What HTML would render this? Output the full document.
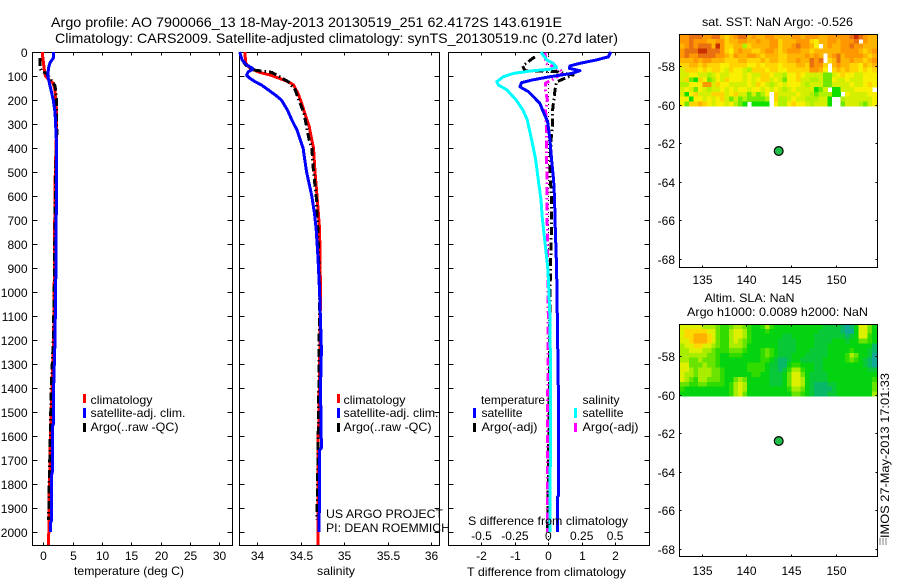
<!DOCTYPE html>
<html lang="en">
<head>
<meta charset="utf-8">
<title>Argo profile 7900066_13</title>
<style>
html,body{margin:0;padding:0;background:#fff;}
svg{display:block;font-family:"Liberation Sans",Arial,sans-serif;font-size:12px;fill:#000;}
.title{font-size:14px;}
</style>
</head>
<body>
<svg id="chart" xmlns="http://www.w3.org/2000/svg" width="900" height="580" viewBox="0 0 900 580">
  <rect x="0" y="0" width="900" height="580" fill="#fff"/>

  <text class="title" x="51" y="27" textLength="511" lengthAdjust="spacingAndGlyphs">Argo profile: AO 7900066_13 18-May-2013 20130519_251 62.4172S 143.6191E</text>
  <text class="title" x="55" y="43" textLength="563" lengthAdjust="spacingAndGlyphs">Climatology: CARS2009. Satellite-adjusted climatology: synTS_20130519.nc (0.27d later)</text>

  <g id="panel-temp"></g>
  <g id="panel-sal"></g>
  <g id="panel-diff"></g>
  <g id="map-sst"></g>
  <g id="map-sla"></g>

  <text x="74" y="575" textLength="110" lengthAdjust="spacingAndGlyphs">temperature (deg C)</text>
  <text x="317" y="575" textLength="38" lengthAdjust="spacingAndGlyphs">salinity</text>
  <text x="467" y="576" textLength="159" lengthAdjust="spacingAndGlyphs">T difference from climatology</text>
  <text x="468" y="525" textLength="160" lengthAdjust="spacingAndGlyphs">S difference from climatology</text>

  <g>
    <rect x="83" y="394" width="3" height="9" fill="#f00"/>
    <text x="90.5" y="404" textLength="62" lengthAdjust="spacingAndGlyphs">climatology</text>
    <rect x="83" y="408" width="3" height="10" fill="#00f"/>
    <text x="90.5" y="417" textLength="95" lengthAdjust="spacingAndGlyphs">satellite-adj. clim.</text>
    <rect x="83" y="423" width="3" height="9" fill="#000"/>
    <text x="90.5" y="431" textLength="88" lengthAdjust="spacingAndGlyphs">Argo(..raw -QC)</text>
  </g>
  <g>
    <rect x="337" y="394" width="3" height="9" fill="#f00"/>
    <text x="343.5" y="404" textLength="62" lengthAdjust="spacingAndGlyphs">climatology</text>
    <rect x="337" y="408" width="3" height="10" fill="#00f"/>
    <text x="343.5" y="417" textLength="95" lengthAdjust="spacingAndGlyphs">satellite-adj. clim.</text>
    <rect x="337" y="423" width="3" height="9" fill="#000"/>
    <text x="343.5" y="431" textLength="88" lengthAdjust="spacingAndGlyphs">Argo(..raw -QC)</text>
  </g>
  <g>
    <text x="326" y="518" textLength="117" lengthAdjust="spacingAndGlyphs">US ARGO PROJECT</text>
    <text x="326" y="532" textLength="124" lengthAdjust="spacingAndGlyphs">PI: DEAN ROEMMICH</text>
  </g>
  <g>
    <text x="481" y="404" textLength="64" lengthAdjust="spacingAndGlyphs">temperature</text>
    <rect x="473" y="408" width="3" height="10" fill="#00f"/>
    <text x="481.5" y="417" textLength="41" lengthAdjust="spacingAndGlyphs">satellite</text>
    <rect x="473" y="423" width="3" height="9" fill="#000"/>
    <text x="481.5" y="431" textLength="56" lengthAdjust="spacingAndGlyphs">Argo(-adj)</text>
    <text x="582.5" y="404" textLength="37" lengthAdjust="spacingAndGlyphs">salinity</text>
    <rect x="574" y="408" width="3" height="10" fill="#0ff"/>
    <text x="582.5" y="417" textLength="41" lengthAdjust="spacingAndGlyphs">satellite</text>
    <rect x="574" y="423" width="3" height="9" fill="#f0f"/>
    <text x="582.5" y="431" textLength="56" lengthAdjust="spacingAndGlyphs">Argo(-adj)</text>
  </g>

  <text x="702" y="26" textLength="151" lengthAdjust="spacingAndGlyphs">sat. SST: NaN Argo: -0.526</text>
  <text x="704.5" y="302" textLength="90" lengthAdjust="spacingAndGlyphs">Altim. SLA: NaN</text>
  <text x="687" y="316" textLength="181" lengthAdjust="spacingAndGlyphs">Argo h1000: 0.0089 h2000: NaN</text>

  <g>
    <text transform="translate(889,538) rotate(-90)" textLength="165" lengthAdjust="spacingAndGlyphs">IMOS 27-May-2013 17:01:33</text>
    <path d="M880 538.5V545M883 538.5V545M886 538.5V545" stroke="#000" stroke-width="1" stroke-dasharray="1 1" fill="none"/>
  </g>
</svg>

<script>
// ---------- tick labels ----------
const depthTicks = [0,100,200,300,400,500,600,700,800,900,1000,1100,1200,1300,1400,1500,1600,1700,1800,1900,2000];
const tempTicks = [0,5,10,15,20,25,30];
const salTicks = [34,34.5,35,35.5,36];
const salTickLabels = ["34","34.5","35","35.5","36"];
const tDiffTicks = [-2,-1,0,1,2];
const sDiffTicks = [-0.5,-0.25,0,0.25,0.5];
const sDiffTickLabels = ["-0.5","-0.25","0","0.25","0.5"];
const lonTicks = [135,140,145,150];
const latTicks = [-58,-60,-62,-64,-66,-68];

// ---------- temperature profiles ----------
const climTempDepth = [0,20,50,80,100,115,130,160,200,250,300,400,500,600,800,1000,1200,1400,1450,1500,1600,1650,1700,1800,1850,1900,2000,2025,2054];
const climTempValue = [-0.15,-0.1,0.05,0.2,0.35,0.9,1.7,2.0,2.15,2.25,2.28,2.17,2.05,2.0,1.9,1.85,1.75,1.45,1.43,1.3,1.25,1.15,1.15,1.03,0.97,0.97,0.95,0.85,0.85];
const satTempDepth = [0,25,45,65,100,140,200,250,300,400,600,800,1000,1200,1400,1550,1560,1750,1760,1950,1960,2000];
const satTempValue = [1.7,1.7,1.14,0.9,0.75,1.14,1.7,2.0,2.1,2.28,2.22,2.2,2.1,2.0,1.75,1.72,1.55,1.55,1.43,1.43,1.26,1.26];
const argoTempDepth = [25,65,80,90,120,140,200,300,340,500,700,1000,1200,1400,1600,1800,1950];
const argoTempValue = [-0.56,-0.56,-0.3,0.58,1.4,2.0,2.28,2.28,2.3,2.1,2.0,1.85,1.7,1.35,1.2,1.0,0.9];

// ---------- salinity profiles ----------
const climSalDepth = [0,46,68,85,96,110,124,137,172,200,255,311,367,400,500,600,740,1000,1400,1500,1550,1600,1850,2054];
const climSalValue = [33.86,33.87,33.92,34.03,34.15,34.26,34.36,34.42,34.47,34.5,34.55,34.6,34.63,34.65,34.667,34.69,34.72,34.73,34.716,34.71,34.71,34.7,34.7,34.7];
const satSalDepth = [0,33,54,68,75,82,96,110,124,137,158,179,200,242,283,325,400,450,500,550,600,670,740,850,1000,1240,1400,1650,1660,1900,1950,2000];
const satSalValue = [33.8,33.83,33.88,33.95,33.94,33.9,33.88,33.92,33.98,34.05,34.13,34.21,34.28,34.35,34.4,34.46,34.53,34.55,34.57,34.6,34.63,34.66,34.68,34.7,34.72,34.74,34.73,34.74,34.72,34.72,34.71,34.71];
const argoSalDepth = [33,54,75,85,103,124,158,200,255,311,367,400,500,600,740,1000,1400,1700,1950];
const argoSalValue = [33.83,33.87,33.96,34.17,34.26,34.36,34.44,34.48,34.54,34.57,34.6,34.63,34.65,34.68,34.7,34.72,34.71,34.7,34.69];

// ---------- difference profiles ----------
const satDTDepth = [0,20,33,47,58,68,78,89,103,117,128,145,165,186,214,249,290,367,450,533,617,700,900,1100,1400,1850,1855,2000];
const satDTValue = [1.87,1.8,1.45,0.95,0.65,0.63,0.95,0.7,0.05,-0.5,-0.8,-0.85,-0.6,-0.45,-0.25,-0.15,-0.02,0.05,0.1,0.16,0.19,0.2,0.25,0.27,0.3,0.3,0.27,0.27];
const satDSDepth = [0,33,47,64,72,79,89,103,124,137,158,200,242,283,367,450,533,617,692,908,1100,1400,2000];
const satDSValue = [-0.055,-0.012,0.037,0.063,0.01,-0.137,-0.26,-0.337,-0.386,-0.374,-0.31,-0.24,-0.19,-0.157,-0.124,-0.094,-0.075,-0.055,-0.045,-0.002,0.012,0.018,0.012];
const argoDTDepth = [20,40,58,78,82,96,124,158,242,311,367,505,617,700,1000,1400,1800,2000];
const argoDTValue = [-0.4,-0.6,-0.77,-0.7,0.25,0.74,0.25,0.2,0.13,0.12,0.08,0.05,0.1,0.1,0.05,0.03,0,-0.02];
const argoDSDepth = [3,47,75,89,103,117,130,158,200,242,325,450,700,1100,1500,2000];
const argoDSValue = [-0.025,-0.018,0.088,0.11,0.063,0.025,-0.022,-0.022,-0.007,-0.02,-0.012,-0.012,-0.008,0,-0.005,-0.005];

// ---------- map data: satellite SST colour classes (-1 = no data), 44 columns x 15 rows ----------
const sstGrid = [
[7,7,8,8,8,7,7,8,8,6,5,6,7,8,8,6,7,6,6,7,7,6,6,6,6,7,7,6,7,7,7,6,6,7,7,7,7,7,8,9,8,7,6,6],
[7,7,8,7,7,7,6,6,7,7,5,6,6,7,7,6,6,7,6,6,7,7,5,6,6,6,7,7,7,5,4,6,6,7,7,6,7,7,7,8,-1,7,6,6],
[6,7,8,7,8,8,8,6,9,7,5,5,6,6,2,5,6,6,6,6,7,7,5,6,6,7,8,7,7,6,4,-1,6,7,6,6,7,7,8,7,7,6,6,6],
[7,8,8,8,9,9,8,8,8,7,5,4,6,7,6,6,5,5,6,7,7,6,5,6,7,7,7,6,6,5,6,6,6,6,6,6,7,7,7,7,6,5,6,7],
[7,8,7,7,8,8,8,8,7,7,6,5,7,6,6,7,7,6,5,6,6,6,5,5,6,6,6,6,7,6,7,6,-1,6,7,8,6,7,7,7,7,6,5,6],
[6,6,6,7,6,7,7,6,6,6,5,5,5,6,6,5,5,5,6,5,6,6,5,5,6,6,7,6,6,8,7,8,-1,5,6,8,6,6,7,6,6,5,6,7],
[5,5,6,6,5,6,5,5,5,4,4,5,5,5,5,4,4,5,4,5,5,5,4,5,5,5,6,6,5,8,7,7,5,-1,6,7,6,6,5,5,4,6,5,6],
[3,5,5,5,4,5,4,5,5,4,3,5,4,4,3,2,5,5,5,4,5,5,4,4,5,5,5,5,5,7,7,6,4,-1,5,6,5,6,5,5,4,5,4,5],
[3,3,4,4,3,3,2,3,4,3,3,4,4,4,3,4,3,3,5,5,4,3,3,2,4,4,5,4,3,3,3,3,1,1,3,4,5,4,4,3,3,4,4,4],
[3,5,1,0,5,4,1,2,4,3,5,4,4,4,3,4,3,4,5,5,3,4,3,1,4,4,5,3,3,2,2,3,1,1,4,3,3,4,3,3,3,4,4,4],
[2,2,4,4,4,7,7,3,5,4,4,3,3,3,3,4,3,5,4,3,2,3,4,3,4,4,4,3,2,3,3,3,1,1,3,3,3,3,4,3,3,4,5,4],
[3,4,3,1,4,3,2,3,3,4,3,4,3,4,4,3,4,4,3,4,3,4,3,2,3,4,3,3,3,3,0,1,3,-1,0,0,3,3,3,4,4,4,4,-1],
[3,0,4,5,3,3,3,5,5,5,3,4,5,3,3,1,3,1,2,4,-1,5,3,3,3,3,4,3,3,2,1,2,2,2,0,0,-1,4,3,3,3,3,4,4],
[4,4,0,4,4,3,4,3,4,5,3,1,3,1,2,1,1,1,1,2,-1,5,2,2,3,4,3,3,2,2,2,3,3,0,-1,-1,2,3,3,3,3,3,3,4],
[4,1,5,5,6,5,4,3,4,4,3,4,2,1,0,-1,0,0,0,0,-1,4,2,2,4,5,4,4,3,2,3,3,3,0,-1,-1,1,3,3,3,2,1,3,4]
];
// ---------- map data: altimetric SLA colour classes, 44 columns x 15 rows ----------
const slaGrid = [
[7,7,7,7,7,6,6,6,5,4,4,5,6,6,5,4,3,3,4,6,4,3,3,3,3,3,3,3,3,3,3,3,2,2,2,2,1,0,1,3,7,7,5,3],
[7,8,8,8,8,8,7,7,5,4,4,6,7,7,6,4,3,3,3,4,3,3,3,3,3,3,3,3,3,3,3,2,2,2,2,2,1,0,0,3,7,7,5,3],
[7,8,8,9,9,9,8,7,5,4,4,6,7,7,6,4,3,3,3,3,3,3,3,2,2,3,3,3,3,3,2,2,2,2,2,2,2,1,2,3,7,7,4,3],
[7,7,8,9,9,9,8,7,5,4,4,6,7,6,5,4,3,3,3,3,3,3,2,2,2,2,3,3,3,3,2,2,2,2,3,3,3,2,3,3,5,5,4,3],
[6,7,7,8,8,7,7,6,5,4,4,6,6,6,5,3,3,3,3,3,3,3,2,2,2,2,3,3,3,3,2,2,2,3,3,3,3,3,3,3,3,3,3,1],
[6,6,7,7,7,6,6,5,4,4,4,5,5,5,4,3,3,3,4,5,4,3,2,2,2,2,3,3,3,2,2,2,2,3,3,3,3,3,4,3,3,3,2,1],
[6,6,6,6,6,6,5,5,4,3,3,4,4,4,3,3,3,3,4,5,4,3,2,2,2,3,3,3,2,2,2,2,2,3,3,3,3,4,6,5,3,3,2,0],
[6,6,5,5,6,5,5,5,4,3,3,3,3,3,3,3,3,3,4,4,3,2,1,1,2,3,3,2,2,2,2,2,3,3,3,3,3,4,5,4,3,2,1,0],
[7,7,5,5,5,6,5,5,4,3,3,3,3,3,3,4,4,4,4,3,2,2,1,1,3,4,4,3,3,3,2,2,3,3,3,3,3,3,3,3,3,2,1,0],
[7,7,6,5,6,6,6,5,5,4,3,3,3,3,3,4,4,4,4,3,2,2,1,2,4,6,6,4,3,3,2,2,3,3,3,3,3,3,3,3,3,3,2,2],
[7,6,6,5,6,6,6,5,5,4,3,3,3,3,3,3,4,4,3,3,2,2,2,3,5,7,7,5,3,2,2,2,2,3,3,3,3,3,3,3,3,3,3,3],
[7,6,5,4,6,6,5,5,5,4,3,3,5,6,5,3,3,3,3,3,2,2,2,3,5,7,7,6,3,2,2,2,2,3,3,3,3,3,3,3,3,3,3,4],
[5,5,4,4,5,5,4,4,4,4,3,4,6,7,6,3,3,3,3,3,2,2,2,3,5,7,7,6,3,2,1,1,1,2,2,3,3,3,3,3,3,3,3,5],
[4,3,3,3,3,3,3,3,3,3,3,4,6,7,6,3,3,3,3,3,3,3,3,3,4,6,6,5,3,2,1,1,1,1,2,3,3,3,3,3,3,3,3,5],
[3,3,3,3,3,3,3,3,3,3,3,4,6,7,5,3,3,3,3,3,3,3,3,3,3,5,5,4,3,2,1,1,1,2,2,3,3,3,3,3,3,3,3,6]
];
const profileLon = 143.6191;
const profileLat = -62.4172;
const gridLonStart = 132.57;
const gridLatStart = -56.34;
const gridLonStep = 0.5;
const gridLatStep = 0.25;

// ---------- colour scales (presentation, indexed by class) ----------
const sstPalette = ["#10e000","#70e800","#b0f000","#d4f000","#f8f000","#ffd400","#ffb400","#ff9800","#e87010","#c83000","#b00000"];
const slaPalette = ["#10a898","#08b868","#08c838","#04d410","#30dc00","#68e400","#a8ec00","#dcf000","#ffd800","#ffb000"];

// ---------- axis functions ----------
const yDepth = d => 52 + 0.24 * d;
const xTemp = v => 43.3 + 5.87 * v;
const xSal = v => 257 + 87 * (v - 34);
const xDT = v => 548.3 + 33.4 * v;
const xDS = v => 548.3 + 133.6 * v;
const xLon = v => 701.7 + (v - 135) * 8.93;
const ySst = v => 66 + (-58 - v) * 19.25;
const ySla = v => 356 + (-58 - v) * 19.25;

const NS = "http://www.w3.org/2000/svg";
function make(parent, tag) {
  const el = document.createElementNS(NS, tag);
  parent.appendChild(el);
  return el;
}
function tickLine(parent, x1, y1, x2, y2) {
  const el = make(parent, "line");
  el.setAttribute("x1", x1);
  el.setAttribute("y1", y1);
  el.setAttribute("x2", x2);
  el.setAttribute("y2", y2);
  el.setAttribute("stroke", "#000");
  el.setAttribute("stroke-width", "1");
  el.setAttribute("shape-rendering", "crispEdges");
  
  
}
function tickText(parent, x, y, label, anchor) {
  const el = make(parent, "text");
  el.setAttribute("x", x);
  el.setAttribute("y", y);
  el.setAttribute("text-anchor", anchor);
  el.textContent = label;
  
  
}
function frame(parent, x0, y0, x1, y1) {
  const el = make(parent, "rect");
  el.setAttribute("x", x0);
  el.setAttribute("y", y0);
  el.setAttribute("width", x1 - x0);
  el.setAttribute("height", y1 - y0);
  el.setAttribute("fill", "none");
  el.setAttribute("stroke", "#000");
  el.setAttribute("stroke-width", "1");
  el.setAttribute("shape-rendering", "crispEdges");
  
  
}
function profile(parent, name, depths, values, xFn, color, dashed) {
  const el = make(parent, "polyline");
  el.setAttribute("points", depths.map((d, i) => xFn(values[i]).toFixed(1) + "," + yDepth(d).toFixed(1)).join(" "));
  el.setAttribute("fill", "none");
  el.setAttribute("stroke", color);
  el.setAttribute("stroke-width", "3");
  el.setAttribute("stroke-linejoin", "round");
  el.setAttribute("shape-rendering", "crispEdges");
  if (dashed) el.setAttribute("stroke-dasharray", "8 3 1.5 3");
  
  
}
function profileAxes(parent, x0, x1, ticks, labels, xFn, depthLabels) {
  const top = 52.5, bottom = 545.5;
  frame(parent, x0, top, x1, bottom);
  depthTicks.forEach(d => {
    const y = Math.round(yDepth(d)) + 0.5;
    tickLine(parent, x0, y, x0 + 5, y);
    tickLine(parent, x1 - 5, y, x1, y);
    if (depthLabels) tickText(parent, 27.5, y + 4.5, String(d), "end");
  });
  ticks.forEach((t, i) => {
    const x = Math.round(xFn(t)) + 0.5;
    tickLine(parent, x, top, x, top + 3);
    tickLine(parent, x, bottom - 3, x, bottom);
    tickText(parent, x, 560, labels[i], "middle");
  });
}
function mapPanel(parent, grid, palette, yFn, y0, y1, labelY) {
  grid.forEach((row, r) => {
    row.forEach((value, c) => {
      if (value < 0) return;
      const lon = gridLonStart + c * gridLonStep;
      const lat = gridLatStart - r * gridLatStep;
      const cell = make(parent, "rect");
      cell.setAttribute("x", xLon(lon).toFixed(2));
      cell.setAttribute("y", yFn(lat).toFixed(2));
      cell.setAttribute("width", (xLon(lon + gridLonStep) - xLon(lon) + 0.4).toFixed(2));
      cell.setAttribute("height", (yFn(lat - gridLatStep) - yFn(lat) + 0.4).toFixed(2));
      cell.setAttribute("fill", palette[value]);
      cell.setAttribute("shape-rendering", "crispEdges");
      
      
    });
  });
  const x0 = 679.5, x1 = 877.5;
  frame(parent, x0, y0, x1, y1);
  lonTicks.forEach(t => {
    const x = Math.round(xLon(t)) + 0.5;
    tickLine(parent, x, y0, x, y0 + 2);
    tickLine(parent, x, y1 - 2, x, y1);
    tickText(parent, x, labelY, String(t), "middle");
  });
  latTicks.forEach(t => {
    const y = Math.round(yFn(t)) + 0.5;
    tickLine(parent, x0, y, x0 + 2, y);
    tickLine(parent, x1 - 2, y, x1, y);
    tickText(parent, 675, y + 4.5, String(t), "end");
  });
  const dot = make(parent, "circle");
  dot.setAttribute("cx", xLon(profileLon).toFixed(1));
  dot.setAttribute("cy", yFn(profileLat).toFixed(1));
  dot.setAttribute("r", "4.4");
  dot.setAttribute("fill", "#20c048");
  dot.setAttribute("stroke", "#000");
  dot.setAttribute("stroke-width", "1.2");
  
  
}

// ---------- temperature panel ----------
const pTemp = document.getElementById("panel-temp");
profileAxes(pTemp, 32.5, 232.5, tempTicks, tempTicks.map(String), xTemp, true);
profile(pTemp, "climatology-temperature-line", climTempDepth, climTempValue, xTemp, "#f00", false);
profile(pTemp, "argo-temperature-line", argoTempDepth, argoTempValue, xTemp, "#000", true);
profile(pTemp, "satellite-temperature-line", satTempDepth, satTempValue, xTemp, "#00f", false);

// ---------- salinity panel ----------
const pSal = document.getElementById("panel-sal");
profileAxes(pSal, 239.5, 439.5, salTicks, salTickLabels, xSal, false);
profile(pSal, "climatology-salinity-line", climSalDepth, climSalValue, xSal, "#f00", false);
profile(pSal, "argo-salinity-line", argoSalDepth, argoSalValue, xSal, "#000", true);
profile(pSal, "satellite-salinity-line", satSalDepth, satSalValue, xSal, "#00f", false);

// ---------- difference panel ----------
const pDiff = document.getElementById("panel-diff");
profileAxes(pDiff, 448.5, 649.5, tDiffTicks, tDiffTicks.map(String), xDT, false);
sDiffTicks.forEach((t, i) => {
  tickText(pDiff, xDS(t), 540, sDiffTickLabels[i], "middle");
});
const zeroLine = make(pDiff, "line");
zeroLine.setAttribute("x1", xDT(0));
zeroLine.setAttribute("x2", xDT(0));
zeroLine.setAttribute("y1", yDepth(0));
zeroLine.setAttribute("y2", 545);
zeroLine.setAttribute("stroke", "#000");
zeroLine.setAttribute("stroke-width", "1");
zeroLine.setAttribute("stroke-dasharray", "1 3");
zeroLine.setAttribute("shape-rendering", "crispEdges");


profile(pDiff, "argo-temperature-difference-line", argoDTDepth, argoDTValue, xDT, "#000", true);
profile(pDiff, "argo-salinity-difference-line", argoDSDepth, argoDSValue, xDS, "#f0f", true);
profile(pDiff, "satellite-salinity-difference-line", satDSDepth, satDSValue, xDS, "#0ff", false);
profile(pDiff, "satellite-temperature-difference-line", satDTDepth, satDTValue, xDT, "#00f", false);

// ---------- maps ----------
mapPanel(document.getElementById("map-sst"), sstGrid, sstPalette, ySst, 34.5, 267.5, 284);
mapPanel(document.getElementById("map-sla"), slaGrid, slaPalette, ySla, 324.5, 556.5, 575);
</script>
</body>
</html>
